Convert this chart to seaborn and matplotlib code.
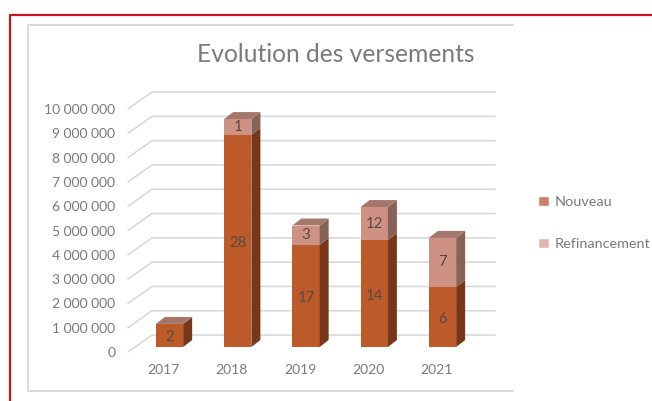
import numpy as np
import pandas as pd
import matplotlib
matplotlib.use('Agg')
import matplotlib.pyplot as plt
from matplotlib.patches import Patch, Polygon
from matplotlib.transforms import ScaledTranslation
import seaborn as sns

years = ['2017', '2018', '2019', '2020', '2021']
nouveau = [950000, 8730000, 4200000, 4400000, 2470000]
refinancement = [0, 650000, 800000, 1360000, 2020000]
nb_nouveau = [2, 28, 17, 14, 6]
nb_refi = [None, 1, 3, 12, 7]
ticks = [0, 1000000, 2000000, 3000000, 4000000, 5000000, 6000000, 7000000, 8000000, 9000000, 10000000]
tick_labels = ['0', '1 000 000', '2 000 000', '3 000 000', '4 000 000', '5 000 000',
               '6 000 000', '7 000 000', '8 000 000', '9 000 000', '10 000 000']

W, H = 652, 401
col_new = '#BC5A2A'
col_new_side = '#773718'
col_refi = '#CE9284'
col_refi_side = '#876257'
col_text = '#7A7A7A'

sns.set_style('white')
plt.rcParams['font.family'] = ['Lato', 'DejaVu Sans']

df = pd.DataFrame({'year': years, 'nouveau': nouveau, 'refi': refinancement})
df['total'] = df['nouveau'] + df['refi']

fig = plt.figure(figsize=(W / 100, H / 100), dpi=100)
# cadre gris, pas de bord droit
fig.add_artist(plt.Line2D([513 / W, 28 / W, 28 / W, 513 / W],
                          [1 - 25 / H, 1 - 25 / H, 1 - 391 / H, 1 - 391 / H],
                          transform=fig.transFigure, color='#D9D9D9', lw=1.4))
# cadre rouge
fig.add_artist(plt.Line2D([10 / W, 10 / W, 1], [0, 1 - 14.5 / H, 1 - 14.5 / H],
                          transform=fig.transFigure, color='#C8141E', lw=1.6))

# axes: x 0 centre 169.5 px, 68.25 px par annee, y 0 a 347 px, 24.4 px par million
left, right = 128, 495
px_x = 1 / 68.25
px_y = 1000000 / 24.4
ax = fig.add_axes([left / W, 1 - 347 / H, (right - left) / W, 243 / H])
ax.patch.set_alpha(0)

# grille en perspective
for t in ticks:
    ax.plot([(left - 169.5) * px_x, (152 - 169.5) * px_x, (right - 169.5) * px_x],
            [t - 5 * px_y, t + 12 * px_y, t + 12 * px_y],
            color='#D9D9D9', lw=1.2, clip_on=False, zorder=1)

order = np.arange(len(years))
sns.barplot(data=df, x='year', y='total', color=col_refi, width=0.4, saturation=1, linewidth=0, ax=ax, zorder=3)
n_total = len(ax.patches)
sns.barplot(data=df, x='year', y='nouveau', color=col_new, width=0.4, saturation=1, linewidth=0, ax=ax, zorder=4)
bars_total = ax.patches[:n_total]
bars_new = ax.patches[n_total:]
ax.set_xlim((left - 169.5) * px_x, (right - 169.5) * px_x)
ax.set_ylim(0, 243 * px_y)

# faces laterales et dessus des barres
dx, dy = 9 * px_x, 7 * px_y
for i in order:
    bt, bn = bars_total[i], bars_new[i]
    x0 = bt.get_x()
    x1 = x0 + bt.get_width()
    yn = bn.get_height()
    yt = bt.get_height()
    ax.add_patch(Polygon([(x1, 0), (x1 + dx, dy), (x1 + dx, yn + dy), (x1, yn)], fc=col_new_side, ec='none', zorder=4))
    if yt > yn:
        ax.add_patch(Polygon([(x1, yn), (x1 + dx, yn + dy), (x1 + dx, yt + dy), (x1, yt)], fc=col_refi_side, ec='none', zorder=4))
    ax.add_patch(Polygon([(x0, yt), (x1, yt), (x1 + dx, yt + dy), (x0 + dx, yt + dy)], fc='#A5776A', ec='none', zorder=4))
    ax.text(i, yn / 2 - 2 * px_y, str(nb_nouveau[i]), ha='center', va='center', fontsize=10.8, color='#5A4A42', zorder=6)
    if nb_refi[i] is not None:
        ax.text(i, yn + (yt - yn) / 2, str(nb_refi[i]), ha='center', va='center', fontsize=10.8, color='#5A4A42', zorder=6)

sns.despine(ax=ax, left=True, bottom=True)
ax.set_xlabel('')
ax.set_ylabel('')
ax.set_yticks(ticks)
ax.set_yticklabels(tick_labels, fontsize=10, color=col_text)
ax.set_xticks(order)
ax.set_xticklabels(years, fontsize=10, color=col_text)
ax.tick_params(axis='y', length=0, pad=9)
ax.tick_params(axis='x', length=0, pad=12.5)
for lab in ax.get_yticklabels():
    lab.set_transform(lab.get_transform() + ScaledTranslation(0, -5 / 100, fig.dpi_scale_trans))
for lab in ax.get_xticklabels():
    lab.set_transform(lab.get_transform() + ScaledTranslation(-6 / 100, 0, fig.dpi_scale_trans))

fig.text(336 / W, 1 - 54 / H, 'Evolution des versements', ha='center', va='center', fontsize=17.7, color=col_text)

handles = [Patch(fc='#C97F6B', label='Nouveau'), Patch(fc='#E1B5AC', label='Refinancement')]
fig.legend(handles=handles, loc='upper left', bbox_to_anchor=(532.5 / W, 1 - 190 / H), frameon=False,
           fontsize=10.4, labelcolor=col_text, handlelength=0.72, handleheight=0.72, handletextpad=0.42,
           labelspacing=2.05, borderaxespad=0, borderpad=0.4)

fig.savefig('out.png', dpi=100)
